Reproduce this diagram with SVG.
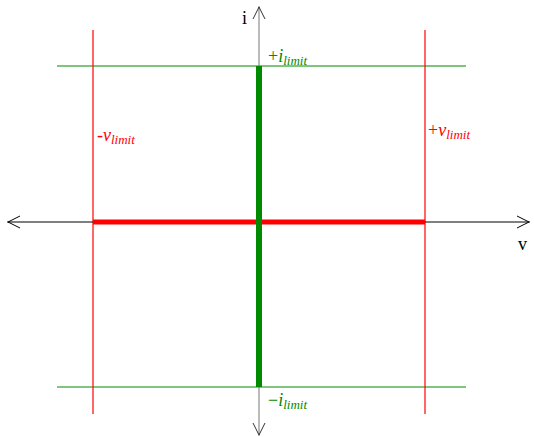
<svg xmlns="http://www.w3.org/2000/svg" width="534" height="437" viewBox="0 0 534 437">
<style>
text{font-family:"Liberation Serif","Times New Roman",serif;font-size:18px}
.it{font-style:italic}
.sub{font-size:13px;font-style:italic}
.g{fill:#008a00}
.r{fill:#ff0000}
.arr{fill:none;stroke-width:1}
</style>
<rect width="534" height="437" fill="#fff"/>
<g id="limits">
<line x1="57" y1="66" x2="466" y2="66" stroke="#008a00" stroke-width="1.2"/>
<line x1="57" y1="387" x2="466" y2="387" stroke="#008a00" stroke-width="1.2"/>
<line x1="93" y1="30" x2="93" y2="414" stroke="#ff0000" stroke-width="1.2"/>
<line x1="425" y1="30" x2="425" y2="414" stroke="#ff0000" stroke-width="1.2"/>
</g>
<g id="connectors">
<line x1="7" y1="222" x2="530" y2="222" stroke="#000" stroke-width="1"/>
<path class="arr" d="M20,216 L8,222 L20,228" stroke="#000"/>
<path class="arr" d="M517,216 L529,222 L517,228" stroke="#000"/>
<line x1="259" y1="6" x2="259" y2="436" stroke="#777" stroke-width="1"/>
<path class="arr" d="M253,19 L259,7 L265,19" stroke="#333"/>
<path class="arr" d="M253,423 L259,435 L265,423" stroke="#333"/>
<line x1="93" y1="222" x2="425" y2="222" stroke="#ff0000" stroke-width="5"/>
<line x1="259" y1="66" x2="259" y2="387" stroke="#008a00" stroke-width="6"/>
</g>
<g id="labels">
<text x="242" y="24">i</text>
<text x="518" y="250">v</text>
<text x="268" y="62" class="g">+<tspan class="it">i</tspan><tspan class="sub" dy="3">limit</tspan></text>
<text x="268" y="406" class="g">−<tspan class="it">i</tspan><tspan class="sub" dy="3">limit</tspan></text>
<text x="97" y="141" class="r">-<tspan class="it">v</tspan><tspan class="sub" dy="3">limit</tspan></text>
<text x="428" y="136" class="r">+<tspan class="it">v</tspan><tspan class="sub" dy="3">limit</tspan></text>
</g>
</svg>
